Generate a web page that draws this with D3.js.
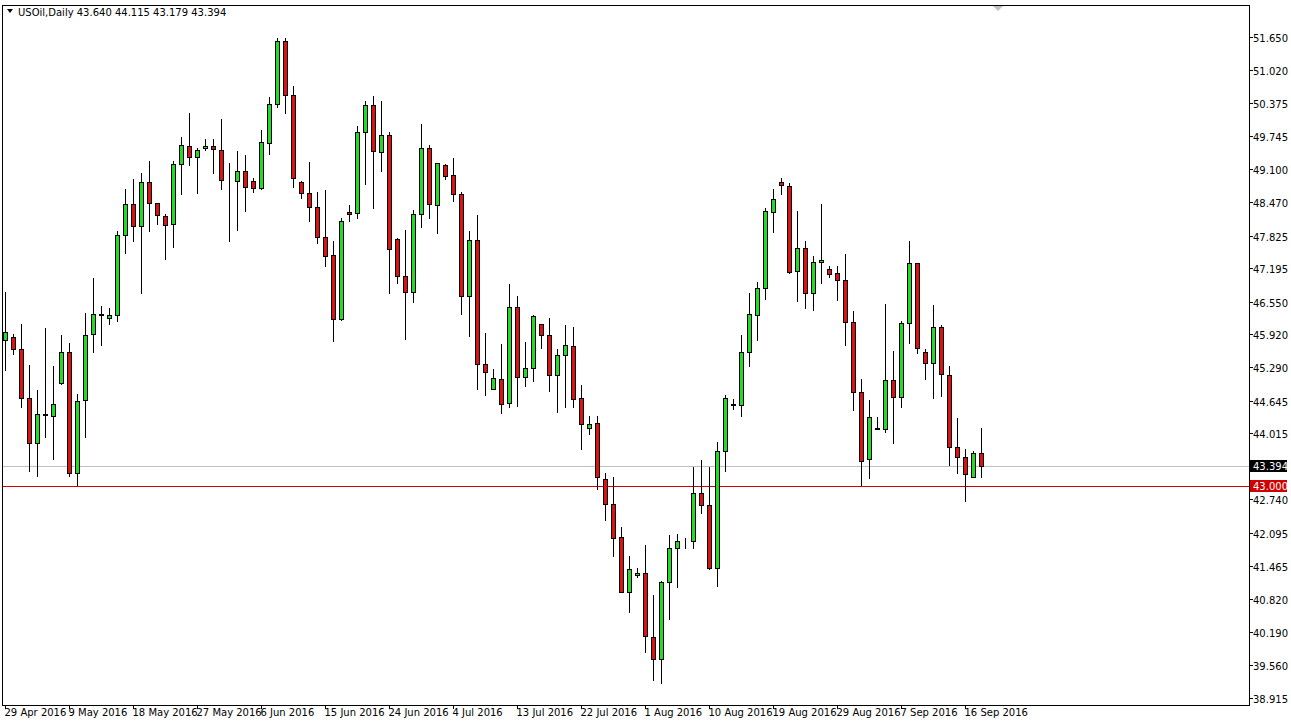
<!DOCTYPE html>
<html>
<head>
<meta charset="utf-8">
<script src="https://cdn.jsdelivr.net/npm/d3@7"></script>
<style>
  body { margin: 0; background: #fff; }
  text { font-family: "DejaVu Sans", sans-serif; font-size: 10px; }
</style>
</head>
<body>
<div id="chart"></div>
<script>
// daily bars, one per index (Sunday bars included, as in the terminal)
const opens  = [45.81,45.87,45.64,44.69,43.83,44.37,44.35,44.98,45.58,43.25,44.66,45.93,46.31,46.24,46.29,47.83,48.43,48.01,48.86,48.45,
  48.20,48.05,49.20,49.55,49.34,49.51,49.55,49.47,48.88,48.87,49.07,48.87,48.74,49.61,50.36,51.57,50.53,48.86,48.64,48.37,
  47.80,47.45,46.22,48.28,48.26,49.82,50.34,49.43,49.76,47.76,47.04,46.74,48.24,49.51,48.41,49.18,48.99,48.62,46.66,47.74,
  45.35,44.87,45.06,44.60,46.45,45.10,45.27,46.12,45.91,45.14,45.52,45.70,44.69,44.11,44.21,43.13,42.65,42.01,40.96,41.28,
  41.32,40.09,39.66,41.15,41.80,41.96,41.94,42.86,42.63,41.42,43.67,44.56,44.56,45.58,46.29,46.81,48.28,48.86,48.78,47.14,
  47.58,46.72,47.31,47.18,47.10,46.97,46.16,44.81,43.52,44.10,44.10,45.04,44.71,46.14,47.29,45.58,45.37,46.06,45.14,43.75,
  43.56,43.17,43.640];
const highs  = [46.74,45.93,46.12,45.33,44.85,46.04,45.31,45.91,45.75,44.77,46.33,47.01,46.47,46.43,47.91,48.72,48.91,49.03,49.26,48.46,
  48.24,49.26,49.72,50.18,49.51,49.68,49.68,50.07,49.22,49.45,49.38,48.93,49.86,50.49,51.63,51.63,50.70,48.88,49.24,48.66,
  48.70,47.72,48.16,48.41,49.94,50.42,50.51,50.42,49.82,47.78,47.93,48.32,49.97,49.57,49.22,49.20,49.32,48.66,47.91,48.22,
  45.95,45.25,45.73,46.89,46.66,45.77,46.29,46.13,46.24,45.64,46.10,46.06,44.94,44.35,44.35,43.25,43.17,42.21,41.65,41.42,
  41.86,40.90,41.16,42.05,42.07,41.99,43.36,43.50,43.36,43.85,44.75,44.67,45.91,46.72,46.93,48.35,48.72,48.93,48.84,48.30,
  47.72,47.43,48.43,47.24,47.24,47.47,46.37,45.06,44.66,44.33,46.50,45.60,46.18,47.72,47.30,45.64,46.49,46.10,45.31,44.31,
  43.71,43.67,44.115];
const lows   = [45.23,45.54,44.52,43.29,43.19,43.94,43.52,44.96,43.19,43.02,43.94,45.58,45.72,46.12,46.18,47.49,47.72,46.72,47.91,48.05,
  47.37,47.60,48.62,49.18,48.64,49.47,49.03,48.72,47.72,47.93,48.30,48.66,48.73,49.39,50.30,50.19,48.76,48.55,48.10,47.68,
  47.24,45.79,46.20,48.10,48.16,48.82,48.35,49.07,46.72,46.91,45.83,46.54,47.99,48.16,47.87,48.91,48.49,46.31,45.89,44.87,
  44.75,44.86,44.40,44.52,44.54,44.92,45.02,45.66,44.83,44.42,44.52,44.52,43.71,44.00,42.94,42.34,41.65,40.95,40.57,41.24,
  39.80,39.26,39.20,40.43,41.05,41.80,41.80,42.48,41.40,41.07,43.29,44.48,44.35,45.31,45.81,46.60,47.89,48.62,47.11,46.56,
  46.43,46.39,46.91,47.03,46.58,45.72,44.46,43.02,43.15,44.09,44.04,43.83,44.52,45.75,45.56,45.06,44.69,44.73,43.40,43.25,
  42.71,43.17,43.179];
const closes = [45.97,45.64,44.69,43.83,44.39,44.38,44.58,45.58,43.25,44.64,45.91,46.31,46.30,46.29,47.83,48.43,48.01,48.86,48.45,48.22,
  48.03,49.20,49.57,49.34,49.47,49.55,49.49,48.89,48.87,49.07,48.76,48.74,49.63,50.36,51.57,50.53,48.93,48.64,48.37,47.80,
  47.43,46.22,48.10,48.24,49.82,50.34,49.45,49.76,47.56,47.04,46.74,48.24,49.51,48.43,49.22,48.97,48.62,46.66,47.74,45.35,
  45.19,45.08,44.58,46.45,45.10,45.27,46.27,45.91,45.14,45.52,45.72,44.67,44.19,44.19,43.17,42.65,42.00,40.96,41.40,41.32,
  40.11,39.66,41.15,41.80,41.94,41.95,42.86,42.63,41.42,43.67,44.69,44.57,45.58,46.31,46.81,48.30,48.53,48.80,47.12,47.58,
  46.72,47.31,47.35,47.08,46.97,46.16,44.81,43.48,44.33,44.11,45.04,44.71,46.14,47.29,45.66,45.37,46.06,45.16,43.75,43.56,
  43.23,43.63,43.394];

const dateLabels = ["29 Apr 2016","9 May 2016","18 May 2016","27 May 2016","6 Jun 2016","15 Jun 2016","24 Jun 2016","4 Jul 2016",
  "13 Jul 2016","22 Jul 2016","1 Aug 2016","10 Aug 2016","19 Aug 2016","29 Aug 2016","7 Sep 2016","16 Sep 2016"];
const dateIdx = [0,8,16,24,32,40,48,56,64,72,80,88,96,104,112,120];
const priceTicks = [51.650,51.020,50.375,49.745,49.100,48.470,47.825,47.195,46.550,45.920,45.290,44.645,44.015,42.740,42.095,41.465,40.820,40.190,39.560,38.915];
const bid = 43.394;
const level = 43.000;

const W = 1291, H = 723;
const fLeft = 2, fRight = 1249, fTop = 5, fBottom = 705;

const svg = d3.select("#chart").append("svg").attr("width", W).attr("height", H);

const x = d3.scaleLinear().domain([0, 1]).range([5, 13]);
const y = d3.scaleLinear().domain([38.915, 51.650]).range([698, 37]);

svg.append("rect").attr("x", fLeft + 0.5).attr("y", fTop + 0.5)
  .attr("width", fRight - fLeft).attr("height", fBottom - fTop)
  .attr("fill", "#fff").attr("stroke", "#000");

// horizontal lines
svg.append("line").attr("x1", fLeft + 1).attr("x2", fRight)
  .attr("y1", Math.round(y(bid)) + 0.5).attr("y2", Math.round(y(bid)) + 0.5)
  .attr("stroke", "#c0c0c0");
svg.append("line").attr("x1", fLeft + 1).attr("x2", fRight)
  .attr("y1", Math.round(y(level)) + 0.5).attr("y2", Math.round(y(level)) + 0.5)
  .attr("stroke", "#d00000");

const bars = closes.map((c, i) => ({ i, o: opens[i], h: highs[i], l: lows[i], c }));

const g = svg.append("g");
const cnd = g.selectAll("g.c").data(bars).enter().append("g");
cnd.append("line")
  .attr("x1", d => Math.round(x(d.i)) + 0.5).attr("x2", d => Math.round(x(d.i)) + 0.5)
  .attr("y1", d => Math.round(y(d.h))).attr("y2", d => Math.round(y(d.l)) + 1)
  .attr("stroke", "#000");
cnd.append("rect")
  .attr("x", d => Math.round(x(d.i)) - 1.5)
  .attr("y", d => Math.round(y(Math.max(d.o, d.c))) + 0.5)
  .attr("width", 4)
  .attr("height", d => Math.max(0, Math.round(y(Math.min(d.o, d.c))) - Math.round(y(Math.max(d.o, d.c)))))
  .attr("fill", d => d.c >= d.o ? "#22dd22" : "#dd1111")
  .attr("stroke", "#000");

// price axis
const pa = svg.append("g");
priceTicks.forEach(p => {
  const yy = Math.round(y(p)) + 0.5;
  pa.append("line").attr("x1", fRight).attr("x2", fRight + 4).attr("y1", yy).attr("y2", yy).attr("stroke", "#000");
  pa.append("text").attr("x", fRight + 4).attr("y", yy + 4).text(p.toFixed(3));
});
[[bid, "#000"], [level, "#d00000"]].forEach(([p, col]) => {
  const yy = Math.round(y(p));
  pa.append("rect").attr("x", fRight + 1).attr("y", yy - 6).attr("width", 37).attr("height", 12).attr("fill", col);
  pa.append("text").attr("x", fRight + 4).attr("y", yy + 4).attr("fill", "#fff").text(p.toFixed(3));
});

// date axis
const da = svg.append("g");
dateIdx.forEach((k, j) => {
  const xx = Math.round(x(k)) + 0.5;
  da.append("line").attr("x1", xx).attr("x2", xx).attr("y1", fBottom).attr("y2", fBottom + 4).attr("stroke", "#000");
  da.append("text").attr("x", xx - 1).attr("y", 716).text(dateLabels[j]);
});

// title
svg.append("path").attr("d", "M7,9 L13,9 L10,13 Z").attr("fill", "#000");
svg.append("text").attr("x", 18).attr("y", 16)
  .text(`USOil,Daily  ${opens[122].toFixed(3)} ${highs[122].toFixed(3)} ${lows[122].toFixed(3)} ${closes[122].toFixed(3)}`);

// shift marker
svg.append("path").attr("d", "M993,6 L1003,6 L998,11 Z").attr("fill", "#c0c0c0");
</script>
</body>
</html>
